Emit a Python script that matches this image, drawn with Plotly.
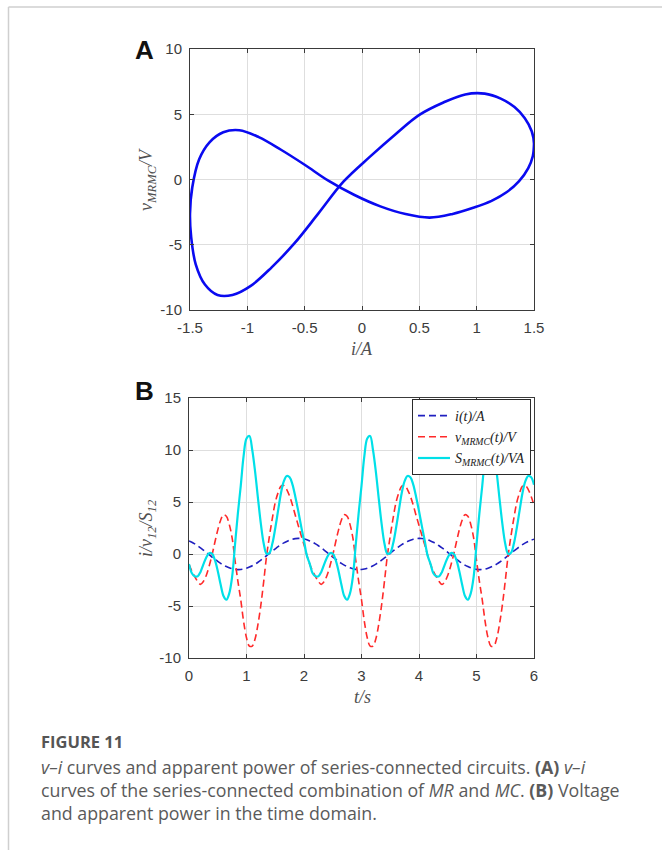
import plotly.graph_objects as go

# ---------------- data ----------------
t_s = [0.0, 0.05, 0.1, 0.15, 0.2, 0.25, 0.3, 0.35, 0.4, 0.45, 0.5, 0.55, 0.6, 0.65, 0.7, 0.75, 0.8, 0.85, 0.9, 0.95,
       1.0, 1.05, 1.1, 1.15, 1.2, 1.25, 1.3, 1.35, 1.4, 1.45, 1.5, 1.55, 1.6, 1.65, 1.7, 1.75, 1.8, 1.85, 1.9, 1.95,
       2.0, 2.05, 2.1, 2.15, 2.2, 2.25, 2.3, 2.35, 2.4, 2.45, 2.5, 2.55, 2.6, 2.65, 2.7, 2.75, 2.8, 2.85, 2.9, 2.95,
       3.0, 3.05, 3.1, 3.15, 3.2, 3.25, 3.3, 3.35, 3.4, 3.45, 3.5, 3.55, 3.6, 3.65, 3.7, 3.75, 3.8, 3.85, 3.9, 3.95,
       4.0, 4.05, 4.1, 4.15, 4.2, 4.25, 4.3, 4.35, 4.4, 4.45, 4.5, 4.55, 4.6, 4.65, 4.7, 4.75, 4.8, 4.85, 4.9, 4.95,
       5.0, 5.05, 5.1, 5.15, 5.2, 5.25, 5.3, 5.35, 5.4, 5.45, 5.5, 5.55, 5.6, 5.65, 5.7, 5.75, 5.8, 5.85, 5.9, 5.95,
       6.0]

i_A = [1.26, 1.13, 0.97, 0.79, 0.59, 0.38, 0.16, -0.07, -0.29, -0.50, -0.71, -0.90, -1.07, -1.21, -1.33, -1.42,
       -1.48, -1.50, -1.49, -1.45, -1.37, -1.26, -1.13, -0.97, -0.79, -0.59, -0.38, -0.16, 0.07, 0.29, 0.50, 0.71,
       0.90, 1.07, 1.21, 1.33, 1.42, 1.48, 1.50, 1.49, 1.45, 1.37,
       1.26, 1.13, 0.97, 0.79, 0.59, 0.38, 0.16, -0.07, -0.29, -0.50, -0.71, -0.90, -1.07, -1.21, -1.33, -1.42,
       -1.48, -1.50, -1.49, -1.45, -1.37, -1.26, -1.13, -0.97, -0.79, -0.59, -0.38, -0.16, 0.07, 0.29, 0.50, 0.71,
       0.90, 1.07, 1.21, 1.33, 1.42, 1.48, 1.50, 1.49, 1.45, 1.37,
       1.26, 1.13, 0.97, 0.79, 0.59, 0.38, 0.16, -0.07, -0.29, -0.50, -0.71, -0.90, -1.07, -1.21, -1.33, -1.42,
       -1.48, -1.50, -1.49, -1.45, -1.37, -1.26, -1.13, -0.97, -0.79, -0.59, -0.38, -0.16, 0.07, 0.29, 0.50, 0.71,
       0.90, 1.07, 1.21, 1.33, 1.42]

v_V = [-0.98, -1.64, -2.17, -2.64, -2.92, -2.65, -2.06, -1.17, -0.11, 1.13, 2.30, 3.25, 3.78, 3.62, 2.85, 1.55,
       -0.6, -2.6, -4.4, -6.5, -8.05, -8.85, -8.85, -8.15, -6.75, -4.9, -2.6, -0.15, 1.75, 3.45, 4.95, 5.9,
       6.52, 6.58, 6.2, 5.55, 4.7, 3.7, 2.75, 1.8, 0.88, -0.12,
       -0.98, -1.64, -2.17, -2.64, -2.92, -2.65, -2.06, -1.17, -0.11, 1.13, 2.30, 3.25, 3.78, 3.62, 2.85, 1.55,
       -0.6, -2.6, -4.4, -6.5, -8.05, -8.85, -8.85, -8.15, -6.75, -4.9, -2.6, -0.15, 1.75, 3.45, 4.95, 5.9,
       6.52, 6.58, 6.2, 5.55, 4.7, 3.7, 2.75, 1.8, 0.88, -0.12,
       -0.98, -1.64, -2.17, -2.64, -2.92, -2.65, -2.06, -1.17, -0.11, 1.13, 2.30, 3.25, 3.78, 3.62, 2.85, 1.55,
       -0.6, -2.6, -4.4, -6.5, -8.05, -8.85, -8.85, -8.15, -6.75, -4.9, -2.6, -0.15, 1.75, 3.45, 4.95, 5.9,
       6.52, 6.58, 6.2, 5.55, 4.7]

S_VA = [-0.95, -1.85, -2.15, -2.15, -1.72, -1.0, -0.33, 0.08, 0.03, -0.57, -1.63, -2.93, -4.04, -4.4, -3.79, -2.2,
        0.89, 3.9, 6.56, 9.43, 11.1, 11.35, 10.0, 7.9, 5.33, 2.9, 0.99, 0.02, 0.12, 1.0, 2.48, 4.19,
        5.87, 7.0, 7.5, 7.38, 6.67, 5.48, 4.13, 2.68, 1.27, -0.16,
        -0.95, -1.85, -2.15, -2.15, -1.72, -1.0, -0.33, 0.08, 0.03, -0.57, -1.63, -2.93, -4.04, -4.4, -3.79, -2.2,
        0.89, 3.9, 6.56, 9.43, 11.1, 11.35, 10.0, 7.9, 5.33, 2.9, 0.99, 0.02, 0.12, 1.0, 2.48, 4.19,
        5.87, 7.0, 7.5, 7.38, 6.67, 5.48, 4.13, 2.68, 1.27, -0.16,
        -0.95, -1.85, -2.15, -2.15, -1.72, -1.0, -0.33, 0.08, 0.03, -0.57, -1.63, -2.93, -4.04, -4.4, -3.79, -2.2,
        0.89, 3.9, 6.56, 9.43, 11.1, 11.35, 10.0, 7.9, 5.33, 2.9, 0.99, 0.02, 0.12, 1.0, 2.48, 4.19,
        5.87, 7.0, 7.5, 7.38, 6.67]

# the v-i loop is drawn over slightly more than one period so the smooth curve closes without a seam
loop_start, loop_end = 38, 86

xA_ticks = [-1.5, -1, -0.5, 0, 0.5, 1, 1.5]
xA_labels = ["-1.5", "-1", "-0.5", "0", "0.5", "1", "1.5"]
yA_ticks = [-10, -5, 0, 5, 10]
yA_labels = ["-10", "-5", "0", "5", "10"]
xB_ticks = [0, 1, 2, 3, 4, 5, 6]
xB_labels = ["0", "1", "2", "3", "4", "5", "6"]
yB_ticks = [-10, -5, 0, 5, 10, 15]
yB_labels = ["-10", "-5", "0", "5", "10", "15"]

# ---------------- figure ----------------
W, H = 662, 850


def px_x(p):
    return p / W


def px_y(p):
    return 1 - p / H


fig = go.Figure()

fig.add_trace(go.Scatter(
    x=i_A[loop_start:loop_end], y=v_V[loop_start:loop_end], mode="lines",
    line=dict(color="#0a0af0", width=2.6, shape="spline", smoothing=1.0),
    xaxis="x", yaxis="y", showlegend=False, hoverinfo="skip"))

fig.add_trace(go.Scatter(
    x=t_s, y=i_A, mode="lines", name="<i>i(t)/A</i>", legendgroup="g1",
    line=dict(color="#2020c0", width=1.6, dash="7px,4px", shape="spline", smoothing=1.0),
    xaxis="x2", yaxis="y2"))
fig.add_trace(go.Scatter(
    x=t_s, y=v_V, mode="lines", name="<i>v<sub>MRMC</sub>(t)/V</i>", legendgroup="g2",
    line=dict(color="#ff2a2a", width=1.6, dash="7px,4px", shape="spline", smoothing=1.0),
    xaxis="x2", yaxis="y2"))
fig.add_trace(go.Scatter(
    x=t_s, y=S_VA, mode="lines", name="<i>S<sub>MRMC</sub>(t)/VA</i>", legendgroup="g3",
    line=dict(color="#00e0e8", width=2.2, shape="spline", smoothing=1.0),
    xaxis="x2", yaxis="y2"))

tick_font = dict(family="Arial, Liberation Sans, sans-serif", size=15, color="#3c3c3c")
axis_common = dict(
    showline=True, linecolor="#3a3a3a", linewidth=1, mirror="ticks",
    ticks="inside", ticklen=4, tickcolor="#3a3a3a",
    showgrid=True, gridcolor="#dedede", gridwidth=1, zeroline=False,
    tickfont=tick_font, tickmode="array", fixedrange=True, automargin=False,
)

A_left, A_right, A_top, A_bot = 190, 534, 49, 310
B_left, B_right, B_top, B_bot = 189, 534, 398, 658

fig.update_layout(
    template="none",
    width=W, height=H,
    margin=dict(l=0, r=0, t=0, b=0, pad=0),
    paper_bgcolor="white", plot_bgcolor="white",
    xaxis=dict(axis_common, domain=[px_x(A_left), px_x(A_right)], range=[-1.5, 1.5],
               tickvals=xA_ticks, ticktext=xA_labels, anchor="y", ticklabelstandoff=4),
    yaxis=dict(axis_common, domain=[px_y(A_bot), px_y(A_top)], range=[-10, 10],
               tickvals=yA_ticks, ticktext=yA_labels, anchor="x", ticklabelstandoff=4),
    xaxis2=dict(axis_common, domain=[px_x(B_left), px_x(B_right)], range=[0, 6],
                tickvals=xB_ticks, ticktext=xB_labels, anchor="y2", ticklabelstandoff=4),
    yaxis2=dict(axis_common, domain=[px_y(B_bot), px_y(B_top)], range=[-10, 15],
                tickvals=yB_ticks, ticktext=yB_labels, anchor="x2", ticklabelstandoff=4),
    legend=dict(
        x=px_x(531), y=px_y(399), xanchor="right", yanchor="top",
        bgcolor="white", bordercolor="#2a2a2a", borderwidth=1,
        font=dict(family="Liberation Serif, Times New Roman, serif", size=14, color="#222"),
        itemwidth=32, tracegroupgap=0,
    ),
    showlegend=True,
)

title_font = dict(family="Liberation Serif, Times New Roman, serif", size=18, color="#505050")
letter_font = dict(family="Arial, Liberation Sans, sans-serif", size=26, color="#111")


def note(text, x, y, font, **kw):
    d = dict(text=text, x=px_x(x), y=px_y(y), xref="paper", yref="paper",
             xanchor="center", yanchor="middle", showarrow=False, font=font)
    d.update(kw)
    return d


ann = [
    note("<b>A</b>", 144, 50, letter_font),
    note("<b>B</b>", 144, 391, letter_font),
    note("<i>i/A</i>", 362, 349, title_font),
    note("<i>v<sub>MRMC</sub>/V</i>", 147, 180, title_font, textangle=-90),
    note("<i>t/s</i>", 362, 697, title_font),
    note("<i>i/v<sub>12</sub>/S<sub>12</sub></i>", 147, 528, title_font, textangle=-90),
]

cap_font = dict(family="Open Sans, Noto Sans, sans-serif", size=17.8, color="#5a5a5a")
ann.append(note("<b>FIGURE 11</b>", 39, 741,
                dict(family="Open Sans, Noto Sans, sans-serif", size=16.5, color="#555"), xanchor="left"))
cap_lines = [
    "<i>v–i</i> curves and apparent power of series-connected circuits. <b>(A)</b> <i>v–i</i>",
    "curves of the series-connected combination of <i>MR</i> and <i>MC</i>. <b>(B)</b> Voltage",
    "and apparent power in the time domain.",
]
for k, line in enumerate(cap_lines):
    ann.append(note(line, 39, 767 + 23 * k, cap_font, xanchor="left"))

fig.update_layout(annotations=ann)

# page frame lines
fig.add_shape(type="line", xref="paper", yref="paper", x0=px_x(8.5), x1=1, y0=px_y(7), y1=px_y(7),
              line=dict(color="#cfcfcf", width=1.5))
fig.add_shape(type="line", xref="paper", yref="paper", x0=px_x(8.5), x1=px_x(8.5), y0=px_y(7), y1=0,
              line=dict(color="#cfcfcf", width=1.5))

fig.write_html("out.html",
               config={"displayModeBar": False, "staticPlot": True},
               post_script="document.body.style.margin='0';document.body.style.padding='0';"
                           "document.documentElement.style.overflow='hidden';")
